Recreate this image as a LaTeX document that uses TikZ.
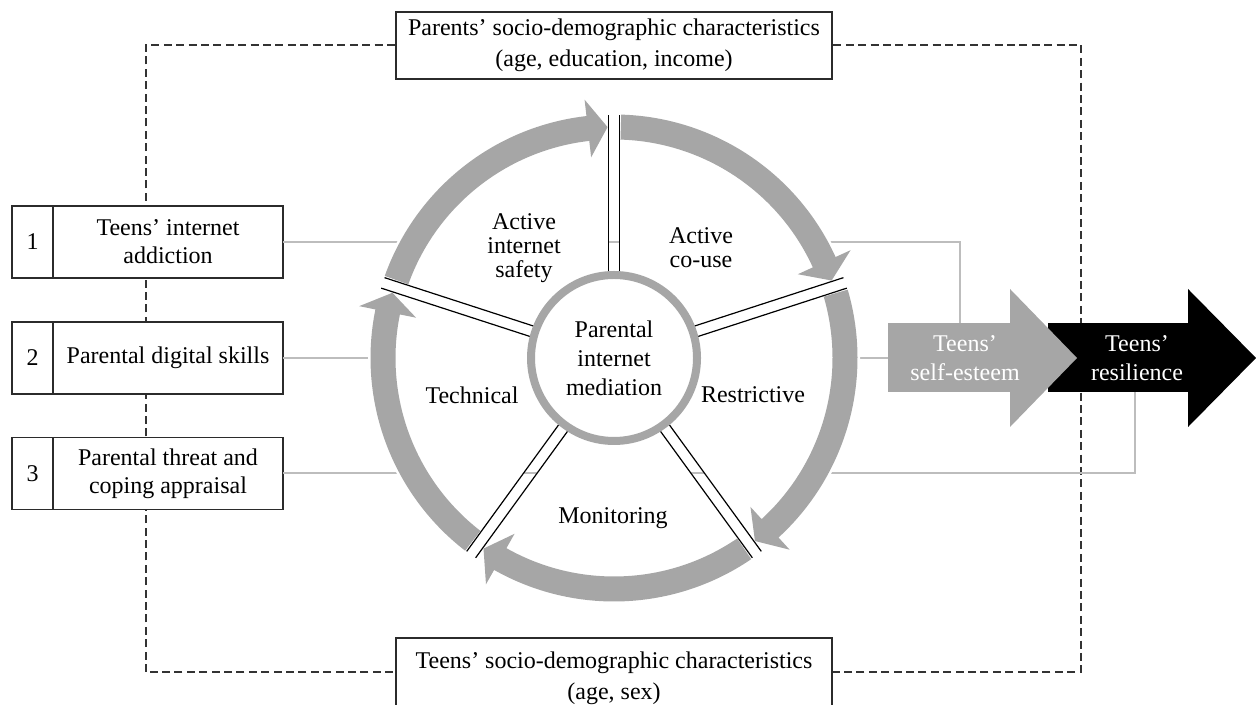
\documentclass[tikz,border=0pt]{standalone}
\usepackage{fontspec}
\setmainfont{Liberation Serif}
\usepackage{tikz}
\usetikzlibrary{positioning}

\definecolor{ringgray}{HTML}{A6A6A6}
\definecolor{linkgray}{HTML}{BDBDBD}
\definecolor{dashgray}{HTML}{333333}
\definecolor{boxline}{HTML}{2B2B2B}

\tikzset{
  box/.style={draw=boxline, line width=0.9pt, fill=white, outer sep=0pt, inner sep=2pt, align=center, font=\fontsize{12}{14}\selectfont},
  numbox/.style={box, minimum width=20.5pt, minimum height=36pt},
  factorbox/.style={box, minimum width=115pt, minimum height=36pt},
  demobox/.style={box, minimum width=218pt, font=\fontsize{12}{15.5}\selectfont},
  link/.style={draw=linkgray, line width=1pt},
  dashline/.style={draw=dashgray, line width=1.1pt, dash pattern=on 4pt off 2.2pt},
  spoke/.style={draw=black, line width=0.6pt},
  slice/.style={align=center, font=\fontsize{12}{12}\selectfont},
  hub/.style={circle, draw=ringgray, line width=4pt, fill=white, minimum size=83pt, inner sep=0pt, align=center, font=\fontsize{12}{14.5}\selectfont},
  shaft/.style={minimum width=#1, minimum height=34.5pt, inner sep=0pt, outer sep=0pt},
  outcome/.style={align=center, text=white, font=\fontsize{12}{14.5}\selectfont},
}

% thick arc arrow of the wheel, tail at spoke #1, tip at spoke #2
\newcommand{\ringarrow}[2]{%
  \fill[ringgray] ({#1-1.7}:243.5) arc[start angle={#1-1.7}, end angle={#2+6.5}, radius=243.5]
    -- ({#2+6.5}:260) -- ({#2+1.6}:231) -- ({#2+6.5}:202) -- ({#2+6.5}:218.5)
    arc[start angle={#2+6.5}, end angle={#1-1.7}, radius=218.5] -- cycle;}
% white slice between two spokes
\newcommand{\ringslice}[2]{%
  \fill[white] ({#1-1.3}:246) arc[start angle={#1-1.3}, end angle={#2+1.3}, radius=246]
    -- ([shift={({#2+90}:5.5)}]{#2}:60) -- ([shift={({#1-90}:5.5)}]{#1}:60) -- cycle;}

\begin{document}
\begin{tikzpicture}[x=0.5pt, y=0.5pt]
\useasboundingbox (0,0) rectangle (1256,705);

% socio-demographic frame
\draw[dashline] (146,33) rectangle (1081,660);

% outcomes
\node[shaft=70pt, fill=black] (resil) at (1118,347) {};
\fill[black] (resil.north east) -- ++(0,17.25pt) -- ([xshift=34pt]resil.east) -- ([yshift=-17.25pt]resil.south east) -- (resil.south east) -- cycle;
\node[shaft=61pt, fill=ringgray] (esteem) at (949,347) {};
\fill[ringgray] (esteem.north east) -- ++(0,17.25pt) -- ([xshift=33.5pt]esteem.east) -- ([yshift=-17.25pt]esteem.south east) -- (esteem.south east) -- cycle;
\node[outcome] (esteemtxt) at (965,347) {Teens’\\self-esteem};
\node[outcome] (resiltxt) at (1137,347) {Teens’\\resilience};

% controls
\node[demobox, minimum height=33.5pt] (parents) at (614,659.5) {Parents’ socio-demographic characteristics\\(age, education, income)};
\node[demobox, minimum height=40pt, anchor=north] (teens) at (614,67) {Teens’ socio-demographic characteristics\\(age, sex)};

% predictors
\node[numbox] (n1) at (32.5,463) {1};
\node[factorbox, right=0pt of n1] (f1) {Teens’ internet\\addiction};
\node[numbox] (n2) at (32.5,347) {2};
\node[factorbox, right=0pt of n2] (f2) {Parental digital skills};
\node[numbox] (n3) at (32.5,231.5) {3};
\node[factorbox, right=0pt of n3] (f3) {Parental threat and\\coping appraisal};

\draw[link] (f1.east) -| ([xshift=5.5pt]esteem.north);
\draw[link] (f2.east) -- (esteem.west);
\draw[link] (f3.east) -| ([xshift=8.5pt]resil.south);

% mediation wheel
\begin{scope}[shift={(614,347)}]
\ringslice{90}{18}
\ringslice{18}{-54}
\ringslice{-54}{-126}
\ringslice{-126}{-198}
\ringslice{162}{90}
\foreach \a in {90,18,-54,-126,-198} {
  \draw[spoke] ([shift={(\a+90:5.5)}]\a:80) -- ([shift={(\a+90:5.5)}]\a:243);
  \draw[spoke] ([shift={(\a-90:5.5)}]\a:80) -- ([shift={(\a-90:5.5)}]\a:243);
}
\node[hub] (hub) at (0,0) {Parental\\internet\\mediation};
\ringarrow{162}{90}
\ringarrow{90}{18}
\ringarrow{18}{-54}
\ringarrow{-54}{-126}
\ringarrow{-126}{-198}
\node[slice] (safety) at (-90,110) {Active\\internet\\safety};
\node[slice] (couse) at (87,110) {Active\\co-use};
\node[slice] (technical) at (-142,-37) {Technical};
\node[slice] (restrictive) at (139,-37) {Restrictive};
\node[slice] (monitoring) at (-1,-160) {Monitoring};
\end{scope}
\end{tikzpicture}
\end{document}
